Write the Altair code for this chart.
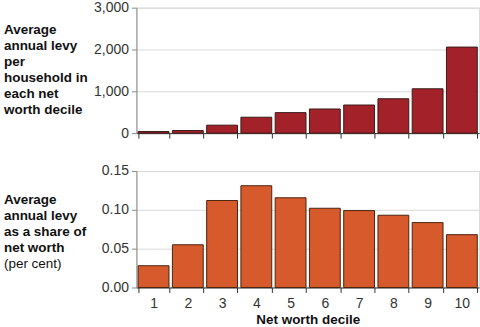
import altair as alt
import pandas as pd

deciles = [1, 2, 3, 4, 5, 6, 7, 8, 9, 10]
levy = [38, 62, 190, 380, 490, 577, 672, 822, 1060, 2057]
share = [0.028, 0.055, 0.112, 0.131, 0.1155, 0.102, 0.099, 0.093, 0.0835, 0.068]

top_label = "Average\nannual levy\nper\nhousehold in\neach net\nworth decile"
bottom_label_bold = "Average\nannual levy\nas a share of\nnet worth"
bottom_label_note = "(per cent)"
x_title = "Net worth decile"

df = pd.DataFrame({"decile": deciles, "levy": levy, "share": share})
FONT = "Liberation Sans"
LFS = 14
TFS = 13.5

x_scale = alt.Scale(paddingInner=0.1, paddingOuter=0.05)

def xaxis(show_labels):
    kw = dict(labelAngle=0, tickBand="extent", tickSize=5, tickColor="#333333",
              domainColor="#333333", labelFontSize=LFS, labelColor="#333333",
              labelFont=FONT, labelPadding=4, grid=False)
    if show_labels:
        return alt.Axis(title=x_title, titleFont=FONT, titleFontSize=TFS,
                        titleFontWeight="bold", titleColor="#111111",
                        titlePadding=2, **kw)
    return alt.Axis(title=None, labels=False, **kw)

def yaxis(values, fmt):
    return alt.Axis(title=None, values=values, format=fmt, tickSize=5,
                    tickColor="#888888", domainColor="#888888",
                    gridColor="#d9d9d9", labelFontSize=LFS,
                    labelColor="#333333", labelFont=FONT, labelPadding=3)

top_bars = alt.Chart(df).mark_bar(color="#A3222A", stroke="#3a1a18", strokeWidth=1).encode(
    x=alt.X("decile:O", scale=x_scale, axis=xaxis(False)),
    y=alt.Y("levy:Q", scale=alt.Scale(domain=[0, 3000]),
            axis=yaxis([0, 1000, 2000, 3000], ",d")),
)
top_text = alt.Chart(pd.DataFrame({"t": [top_label]})).mark_text(
    align="left", baseline="alphabetic", font=FONT, fontSize=TFS,
    fontWeight="bold", lineBreak="\n", lineHeight=16, color="#111111"
).encode(x=alt.value(-133), y=alt.value(26.5), text="t:N")

top = alt.layer(top_bars, top_text).properties(width=344, height=126)

bot_bars = alt.Chart(df).mark_bar(color="#D65A2B", stroke="#4a2410", strokeWidth=1).encode(
    x=alt.X("decile:O", scale=x_scale, axis=xaxis(True)),
    y=alt.Y("share:Q", scale=alt.Scale(domain=[0, 0.15]),
            axis=yaxis([0, 0.05, 0.10, 0.15], ".2f")),
)
bot_text = alt.Chart(pd.DataFrame({"t": [bottom_label_bold]})).mark_text(
    align="left", baseline="alphabetic", font=FONT, fontSize=TFS,
    fontWeight="bold", lineBreak="\n", lineHeight=16, color="#111111"
).encode(x=alt.value(-133), y=alt.value(33.5), text="t:N")
bot_note = alt.Chart(pd.DataFrame({"t": [bottom_label_note]})).mark_text(
    align="left", baseline="alphabetic", font=FONT, fontSize=TFS,
    color="#111111"
).encode(x=alt.value(-133), y=alt.value(97.5), text="t:N")

bottom = alt.layer(bot_bars, bot_text, bot_note).properties(width=344, height=117)

chart = alt.vconcat(top, bottom, spacing=22).properties(
    padding={"left": 3, "top": -1, "right": 0, "bottom": 0}
).configure_view(stroke=None).configure(background="white")

chart.save("out.html", embed_options={"renderer": "svg", "actions": False})
